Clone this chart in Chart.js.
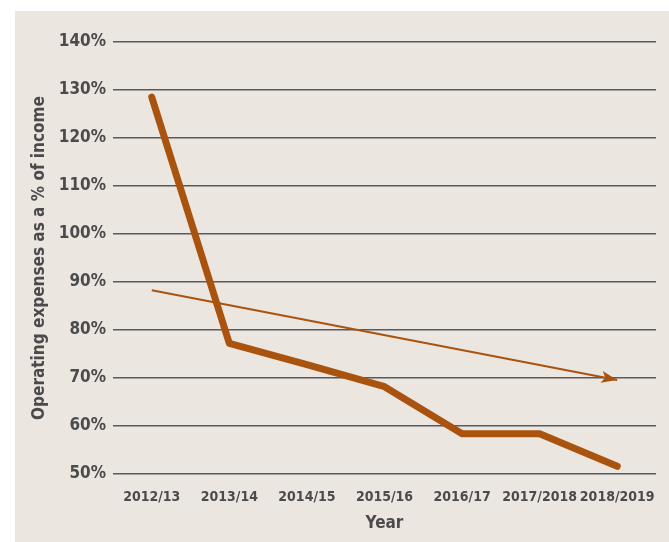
<!DOCTYPE html>
<html>
<head>
<meta charset="utf-8">
<script src="https://cdn.jsdelivr.net/npm/chart.js@4"></script>
<style>
  html, body { margin: 0; padding: 0; background: #ffffff; }
  #panel { position: absolute; left: 15px; top: 11px; width: 654px; height: 531px; background: #ebe6e0; }
</style>
</head>
<body>
<div id="panel"><canvas id="chart" width="654" height="531"></canvas></div>
<script>
const years = ["2012/13", "2013/14", "2014/15", "2015/16", "2016/17", "2017/2018", "2018/2019"];
const expenseRatio = [128.5, 77.2, 72.8, 68.2, 58.4, 58.4, 51.6];
const trendLine = [88.3, null, null, null, null, null, 69.6];
const yTicks = [50, 60, 70, 80, 90, 100, 110, 120, 130, 140];

const FONT = "'DejaVu Sans Condensed', 'Liberation Sans', sans-serif";
const TEXT = "#4b4b4d";
const BROWN = "#a9530f";

// arrowhead at the end of the trend line
const arrowPlugin = {
  id: "arrowHead",
  afterDatasetsDraw(chart) {
    const pts = chart.getDatasetMeta(1).data.filter((p, i) => trendLine[i] !== null);
    if (pts.length < 2) return;
    const a = pts[pts.length - 2];
    const b = pts[pts.length - 1];
    const ang = Math.atan2(b.y - a.y, b.x - a.x);
    const ctx = chart.ctx;
    const len = 16, half = 6;
    ctx.save();
    ctx.translate(b.x, b.y);
    ctx.rotate(ang);
    ctx.fillStyle = BROWN;
    ctx.beginPath();
    ctx.moveTo(0, 0);
    ctx.lineTo(-len, -half);
    ctx.lineTo(-len + 4, 0);
    ctx.lineTo(-len, half);
    ctx.closePath();
    ctx.fill();
    ctx.restore();
  },
};

new Chart(document.getElementById("chart"), {
  type: "line",
  data: {
    labels: years,
    datasets: [
      {
        data: expenseRatio,
        borderColor: BROWN,
        borderWidth: 7,
        borderCapStyle: "round",
        borderJoinStyle: "round",
        pointRadius: 0,
        tension: 0,
      },
      {
        data: trendLine,
        borderColor: BROWN,
        borderWidth: 2,
        pointRadius: 0,
        spanGaps: true,
        tension: 0,
      },
    ],
  },
  options: {
    responsive: false,
    animation: false,
    layout: { padding: { left: 10, right: 13, top: 31, bottom: 4 } },
    plugins: {
      legend: { display: false },
      tooltip: { enabled: false },
    },
    scales: {
      x: {
        offset: true,
        grid: { display: false },
        border: { display: false },
        ticks: {
          color: TEXT,
          font: { family: FONT, size: 14, weight: "bold" },
          padding: 7,
          maxRotation: 0,
          autoSkip: false,
        },
        title: {
          display: true,
          text: "Year",
          color: TEXT,
          font: { family: FONT, size: 17, weight: "bold" },
          padding: { top: 4, bottom: 4 },
        },
        afterFit(scale) { scale.height = 64; },
      },
      y: {
        min: 50,
        max: 140,
        afterBuildTicks(scale) { scale.ticks = yTicks.map((v) => ({ value: v })); },
        grid: { color: "#5a5a5c", lineWidth: 1.5, drawTicks: false },
        border: { display: false },
        ticks: {
          color: TEXT,
          font: { family: FONT, size: 17, weight: "bold" },
          padding: 7,
          callback: (v) => v + "%",
        },
        title: {
          display: true,
          text: "Operating expenses as a % of income",
          color: TEXT,
          font: { family: FONT, size: 17, weight: "bold" },
          padding: { top: 4, bottom: 4 },
        },
        afterFit(scale) { scale.width = 88; },
      },
    },
  },
  plugins: [arrowPlugin],
});
</script>
</body>
</html>
